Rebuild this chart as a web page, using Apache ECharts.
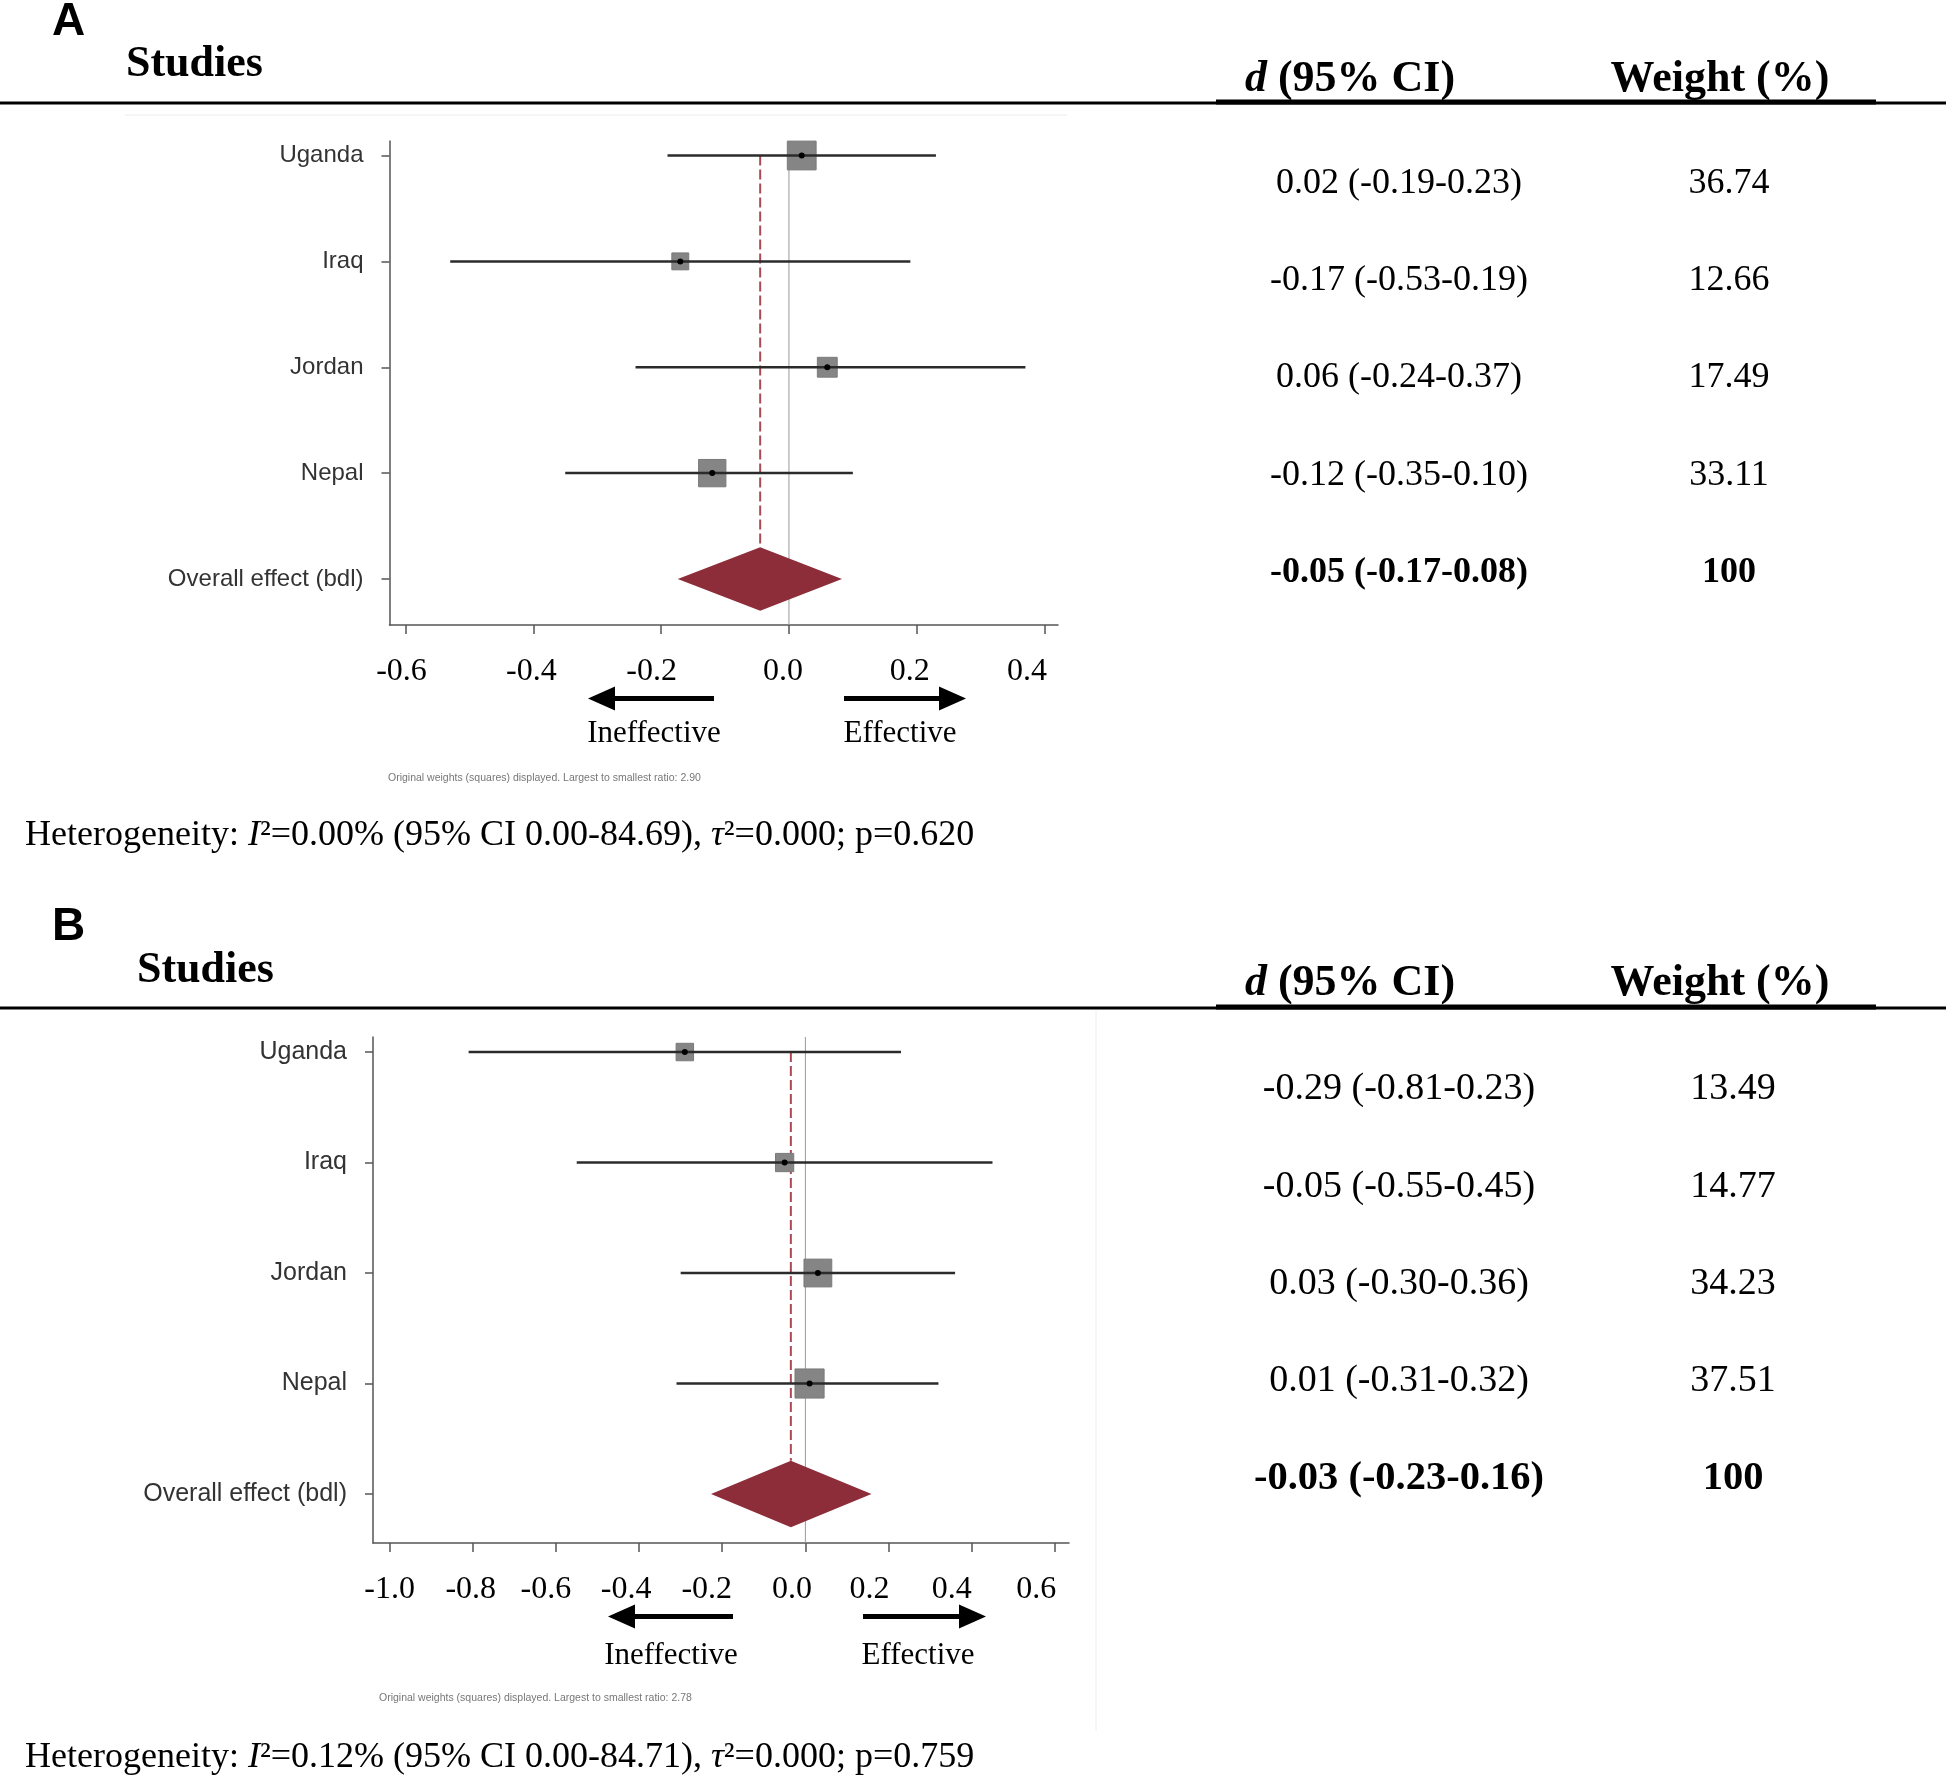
<!DOCTYPE html>
<html>
<head>
<meta charset="utf-8">
<script src="https://cdn.jsdelivr.net/npm/echarts@6/dist/echarts.min.js"></script>
<style>
html,body{margin:0;padding:0;background:#fff;}
#chart{width:1946px;height:1776px;}
</style>
</head>
<body>
<div id="chart"></div>
<script>
// ---------------- DATA ----------------
const studies = ['Uganda', 'Iraq', 'Jordan', 'Nepal'];
const overallLabel = 'Overall effect (bdl)';

// Panel A
const estA = [0.02, -0.17, 0.06, -0.12];
const loA = [-0.19, -0.53, -0.24, -0.35];
const hiA = [0.23, 0.19, 0.37, 0.10];
const weightA = [36.74, 12.66, 17.49, 33.11];
const overallA = [-0.045, -0.174, 0.083]; // pooled est, lo, hi as drawn
const ciTextA = ['0.02 (-0.19-0.23)', '-0.17 (-0.53-0.19)', '0.06 (-0.24-0.37)', '-0.12 (-0.35-0.10)', '-0.05 (-0.17-0.08)'];
const wTextA = ['36.74', '12.66', '17.49', '33.11', '100'];
const ticksA = [-0.6, -0.4, -0.2, 0.0, 0.2, 0.4];
const hetA = ['0.00', '0.00-84.69', '0.000', '0.620'];
const ratioA = '2.90';

// Panel B
const estB = [-0.29, -0.05, 0.03, 0.01];
const loB = [-0.81, -0.55, -0.30, -0.31];
const hiB = [0.23, 0.45, 0.36, 0.32];
const weightB = [13.49, 14.77, 34.23, 37.51];
const overallB = [-0.035, -0.227, 0.159];
const ciTextB = ['-0.29 (-0.81-0.23)', '-0.05 (-0.55-0.45)', '0.03 (-0.30-0.36)', '0.01 (-0.31-0.32)', '-0.03 (-0.23-0.16)'];
const wTextB = ['13.49', '14.77', '34.23', '37.51', '100'];
const ticksB = [-1.0, -0.8, -0.6, -0.4, -0.2, 0.0, 0.2, 0.4, 0.6];
const hetB = ['0.12', '0.00-84.71', '0.000', '0.759'];
const ratioB = '2.78';

// ---------------- LAYOUT / STYLE ----------------
const SERIF = '"Liberation Serif", "Times New Roman", serif';
const SANS = '"Liberation Sans", Arial, sans-serif';
const SQ_K = 4.75;
const panels = [
  {
    letter: 'A', est: estA, lo: loA, hi: hiA, w: weightA, overall: overallA,
    ciText: ciTextA, wText: wTextA, ticks: ticksA, het: hetA, ratio: ratioA,
    grid: {left: 389.5, top: 141, width: 668.5, height: 484},
    xMin: -0.625, xMax: 0.421, yMin: 0.5655, yMax: 5.137,
    labelShifts: [4, 2, 9.5, 6, 7, 17.5], yLabelSize: 24,
    letterY: 22.5, studiesX: 126, studiesY: 65, headY: 80,
    lineY: 103, tableRows: [183.5, 281, 377.5, 475.5, 573], tableFont: 36, tableBold: 36,
    col1: 1399, col2: 1729,
    arrowY: 698.5, arrL: [588, 714], arrR: [844, 966], effY: 734, ineffX: 654, effX: 900,
    capX: 388, capY: 778, hetY: 836
  },
  {
    letter: 'B', est: estB, lo: loB, hi: hiB, w: weightB, overall: overallB,
    ciText: ciTextB, wText: wTextB, ticks: ticksB, het: hetB, ratio: ratioB,
    grid: {left: 373, top: 1037, width: 696, height: 506},
    xMin: -1.04, xMax: 0.634, yMin: 0.5566, yMax: 5.136,
    labelShifts: [0, 2, 10, 13, 15.5, 13.5, 19, 20, 18.5], yLabelSize: 25,
    letterY: 927, studiesX: 137, studiesY: 971, headY: 984,
    lineY: 1008, tableRows: [1089.5, 1187, 1284, 1381, 1478.5], tableFont: 38, tableBold: 40.5,
    col1: 1399, col2: 1733,
    arrowY: 1616.5, arrL: [608, 733], arrR: [863, 986], effY: 1656, ineffX: 671, effX: 918,
    capX: 379, capY: 1698, hetY: 1758
  }
];

const rowLabels = studies.concat([overallLabel]); // top to bottom
const rowPos = [5, 4, 3, 2, 1];

const grids = [], xAxes = [], yAxes = [], series = [], graphics = [];

panels.forEach((p, pi) => {
  grids.push(Object.assign({}, p.grid));
  const rich = {};
  p.labelShifts.forEach((s, i) => {
    rich['o' + i] = {fontFamily: SERIF, fontSize: 32, color: '#000', padding: [0, 2 * s, 0, 0]};
  });
  xAxes.push({
    type: 'value', gridIndex: pi, min: p.xMin, max: p.xMax,
    axisLine: {show: true, onZero: false, lineStyle: {color: '#555', width: 1.5}},
    axisTick: {show: true, length: 9, customValues: p.ticks, lineStyle: {color: '#555', width: 1.5}},
    axisLabel: {
      show: true, customValues: p.ticks,
      formatter: (v) => {
        let idx = 0, best = 1e9;
        p.ticks.forEach((t, i) => { const d = Math.abs(t - v); if (d < best) { best = d; idx = i; } });
        return '{o' + idx + '|' + (Math.abs(v) < 1e-9 ? 0 : v).toFixed(1) + '}';
      },
      rich: rich,
      fontFamily: SERIF, fontSize: 32, color: '#000', margin: 31
    },
    splitLine: {show: false}
  });
  yAxes.push({
    type: 'value', gridIndex: pi, min: p.yMin, max: p.yMax,
    axisLine: {show: true, onZero: false, lineStyle: {color: '#555', width: 1.5}},
    axisTick: {show: true, length: 8, customValues: rowPos, lineStyle: {color: '#555', width: 1.5}},
    axisLabel: {
      show: true, customValues: rowPos,
      formatter: v => rowLabels[rowPos.indexOf(Math.round(v))] || '',
      fontFamily: SANS, fontSize: p.yLabelSize, color: '#333', margin: 26
    },
    splitLine: {show: false}
  });

  // zero line
  series.push({
    type: 'custom', xAxisIndex: pi, yAxisIndex: pi, silent: true, clip: false,
    data: [[0, p.yMin, p.yMax]],
    encode: {x: 0, y: [1, 2]},
    renderItem: (params, api) => {
      const a = api.coord([api.value(0), api.value(1)]);
      const b = api.coord([api.value(0), api.value(2)]);
      return {type: 'line', shape: {x1: a[0], y1: a[1], x2: b[0], y2: b[1]},
        style: {stroke: '#9a9a9a', lineWidth: 1}};
    }
  });
  // dashed pooled line from first study row down to diamond top
  series.push({
    type: 'custom', xAxisIndex: pi, yAxisIndex: pi, silent: true, clip: false,
    data: [[p.overall[0], rowPos[0], rowPos[4] + 0.3]],
    encode: {x: 0, y: [1, 2]},
    renderItem: (params, api) => {
      const a = api.coord([api.value(0), api.value(1)]);
      const b = api.coord([api.value(0), api.value(2)]);
      return {type: 'line', shape: {x1: a[0], y1: a[1], x2: b[0], y2: b[1]},
        style: {stroke: '#aa4a55', lineWidth: 2, lineDash: [10, 4]}};
    }
  });
  // studies
  series.push({
    type: 'custom', xAxisIndex: pi, yAxisIndex: pi, silent: true, clip: false,
    data: studies.map((s, i) => [p.est[i], p.lo[i], p.hi[i], rowPos[i], p.w[i]]),
    encode: {x: [0, 1, 2], y: 3},
    renderItem: (params, api) => {
      const y = api.value(3);
      const e = api.coord([api.value(0), y]);
      const l = api.coord([api.value(1), y]);
      const h = api.coord([api.value(2), y]);
      const s = SQ_K * Math.sqrt(api.value(4));
      return {type: 'group', children: [
        {type: 'rect', shape: {x: e[0] - s / 2, y: e[1] - s / 2, width: s, height: s},
          style: {fill: '#858585', stroke: '#7a7a7a', lineWidth: 1}},
        {type: 'line', shape: {x1: l[0], y1: l[1], x2: h[0], y2: h[1]},
          style: {stroke: '#2b2b2b', lineWidth: 2.5}},
        {type: 'circle', shape: {cx: e[0], cy: e[1], r: 3}, style: {fill: '#000'}}
      ]};
    }
  });
  // diamond
  series.push({
    type: 'custom', xAxisIndex: pi, yAxisIndex: pi, silent: true, clip: false,
    data: [[p.overall[0], p.overall[1], p.overall[2], rowPos[4]]],
    encode: {x: [0, 1, 2], y: 3},
    renderItem: (params, api) => {
      const y = api.value(3), e = api.value(0);
      const pts = [
        api.coord([api.value(1), y]),
        api.coord([e, y + 0.3]),
        api.coord([api.value(2), y]),
        api.coord([e, y - 0.3])
      ];
      return {type: 'polygon', shape: {points: pts}, style: {fill: '#8d2d39'}};
    }
  });

  // ---- graphics: header, table, arrows, notes ----
  graphics.push({type: 'text', x: 52, y: p.letterY, style: {
    text: p.letter, font: 'bold 46px ' + SANS, fill: '#000', textAlign: 'left', textVerticalAlign: 'middle'}});
  graphics.push({type: 'text', x: p.studiesX, y: p.studiesY, style: {
    text: 'Studies', font: 'bold 44px ' + SERIF, fill: '#000', textAlign: 'left', textVerticalAlign: 'middle'}});
  graphics.push({type: 'text', x: 1350, y: p.headY, style: {
    text: '{di|d} (95% CI)', font: 'bold 44px ' + SERIF, fill: '#000', textAlign: 'center', textVerticalAlign: 'middle',
    rich: {di: {fontStyle: 'italic', fontWeight: 'bold', fontSize: 44, fontFamily: SERIF}}}});
  graphics.push({type: 'text', x: 1720, y: p.headY, style: {
    text: 'Weight (%)', font: 'bold 44px ' + SERIF, fill: '#000', textAlign: 'center', textVerticalAlign: 'middle'}});
  // header rules
  graphics.push({type: 'rect', shape: {x: 0, y: p.lineY - 1.5, width: 1946, height: 3}, style: {fill: '#000'}});
  graphics.push({type: 'rect', shape: {x: 1216, y: p.lineY - 3.5, width: 660, height: 5}, style: {fill: '#000'}});
  // table
  p.ciText.forEach((t, i) => {
    const last = i === p.ciText.length - 1;
    const f = last ? 'bold ' + p.tableBold + 'px ' : p.tableFont + 'px ';
    graphics.push({type: 'text', x: p.col1, y: p.tableRows[i], style: {
      text: t, font: f + SERIF, fill: '#000', textAlign: 'center', textVerticalAlign: 'middle'}});
    graphics.push({type: 'text', x: p.col2, y: p.tableRows[i], style: {
      text: p.wText[i], font: f + SERIF, fill: '#000', textAlign: 'center', textVerticalAlign: 'middle'}});
  });
  // arrows
  const aw = 5, hh = 12, hl = 27;
  graphics.push({type: 'rect', shape: {x: p.arrL[0] + hl - 2, y: p.arrowY - aw / 2, width: p.arrL[1] - p.arrL[0] - hl + 2, height: aw}, style: {fill: '#000'}});
  graphics.push({type: 'polygon', shape: {points: [[p.arrL[0], p.arrowY], [p.arrL[0] + hl, p.arrowY - hh], [p.arrL[0] + hl, p.arrowY + hh]]}, style: {fill: '#000'}});
  graphics.push({type: 'rect', shape: {x: p.arrR[0], y: p.arrowY - aw / 2, width: p.arrR[1] - p.arrR[0] - hl + 2, height: aw}, style: {fill: '#000'}});
  graphics.push({type: 'polygon', shape: {points: [[p.arrR[1], p.arrowY], [p.arrR[1] - hl, p.arrowY - hh], [p.arrR[1] - hl, p.arrowY + hh]]}, style: {fill: '#000'}});
  graphics.push({type: 'text', x: p.ineffX, y: p.effY, style: {
    text: 'Ineffective', font: '31px ' + SERIF, fill: '#000', textAlign: 'center', textVerticalAlign: 'middle'}});
  graphics.push({type: 'text', x: p.effX, y: p.effY, style: {
    text: 'Effective', font: '31px ' + SERIF, fill: '#000', textAlign: 'center', textVerticalAlign: 'middle'}});
  // caption
  graphics.push({type: 'text', x: p.capX, y: p.capY, style: {
    text: 'Original weights (squares) displayed. Largest to smallest ratio: ' + p.ratio,
    font: '10.5px ' + SANS, fill: '#777', textAlign: 'left', textVerticalAlign: 'middle'}});
  // heterogeneity
  graphics.push({type: 'text', x: 25, y: p.hetY, style: {
    text: 'Heterogeneity: {it|I}\u00B2=' + p.het[0] + '% (95% CI ' + p.het[1] + '), {it|\u03C4}\u00B2=' + p.het[2] + '; p=' + p.het[3],
    font: '36px ' + SERIF, fill: '#000', textAlign: 'left', textVerticalAlign: 'middle',
    rich: {it: {fontStyle: 'italic', fontSize: 36, fontFamily: SERIF}}}});
});

// faint Stata graph-region borders
graphics.push({type: 'line', shape: {x1: 125, y1: 115, x2: 1067, y2: 115}, style: {stroke: '#ececec', lineWidth: 1}});
graphics.push({type: 'line', shape: {x1: 1096, y1: 1011, x2: 1096, y2: 1731}, style: {stroke: '#ececec', lineWidth: 1}});

const chart = echarts.init(document.getElementById('chart'), null, {renderer: 'canvas'});
chart.setOption({
  animation: false,
  backgroundColor: '#fff',
  grid: grids,
  xAxis: xAxes,
  yAxis: yAxes,
  series: series,
  graphic: {elements: graphics}
});
</script>
</body>
</html>
